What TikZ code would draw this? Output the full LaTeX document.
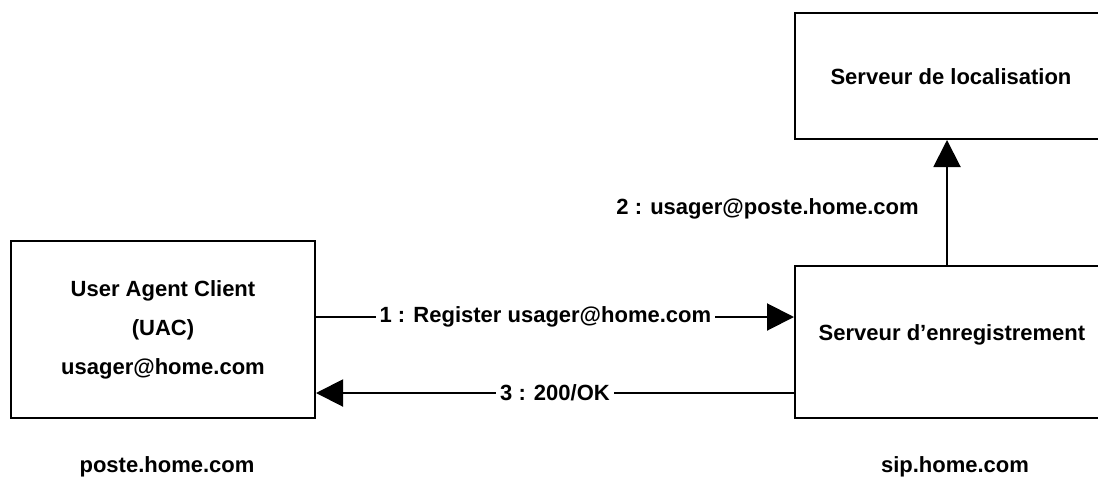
\documentclass[tikz,border=0pt]{standalone}
\usepackage{fontspec}
\setmainfont{Liberation Sans}
\usetikzlibrary{arrows.meta,positioning}
\tikzset{
  box/.style={draw,line width=2pt,inner sep=0pt},
  msg/.style={line width=2pt,-{Triangle[length=27pt,width=27pt]}},
  lbl/.style={fill=white,inner sep=4pt}
}
\begin{document}
\begin{tikzpicture}[x=1pt,y=-1pt,font=\fontsize{22}{26}\selectfont\bfseries]
  \clip (0,0) rectangle (1098,477);
  \fill[white] (0,0) rectangle (1098,477);
  % boxes
  \node[box,minimum width=304pt,minimum height=177pt] (uac) at (163,329.5) {};
  \node[box,minimum width=314pt,minimum height=152pt] (reg) at (952,342) {};
  \node[box,minimum width=314pt,minimum height=126pt] (loc) at (952,76) {};
  \node (uac1) at (163,291) {User Agent Client};
  \node (uac2) at (163,330) {(UAC)};
  \node (uac3) at (163,369) {usager@home.com};
  \node (regt) at (952,335) {Serveur d’enregistrement};
  \node (loct) at (951,77) {Serveur de localisation};
  % host names
  \node (hostc) at (167,467) {poste.home.com};
  \node (hosts) at (955,467) {sip.home.com};
  % messages
  \draw[msg] ([yshift=12.5pt]uac.east) -- node[lbl,pos=0.48] {1 : Register usager@home.com} ([yshift=12.5pt]uac.east -| reg.west);
  \draw[msg] ([xshift=-5pt]reg.north) -- node[left=24pt,pos=0.45] {2 : usager@poste.home.com} ([xshift=-5pt]loc.south);
  \draw[msg] ([yshift=-51pt]reg.west) -- node[lbl] {3 : 200/OK} ([yshift=-51pt]reg.west -| uac.east);
\end{tikzpicture}
\end{document}
